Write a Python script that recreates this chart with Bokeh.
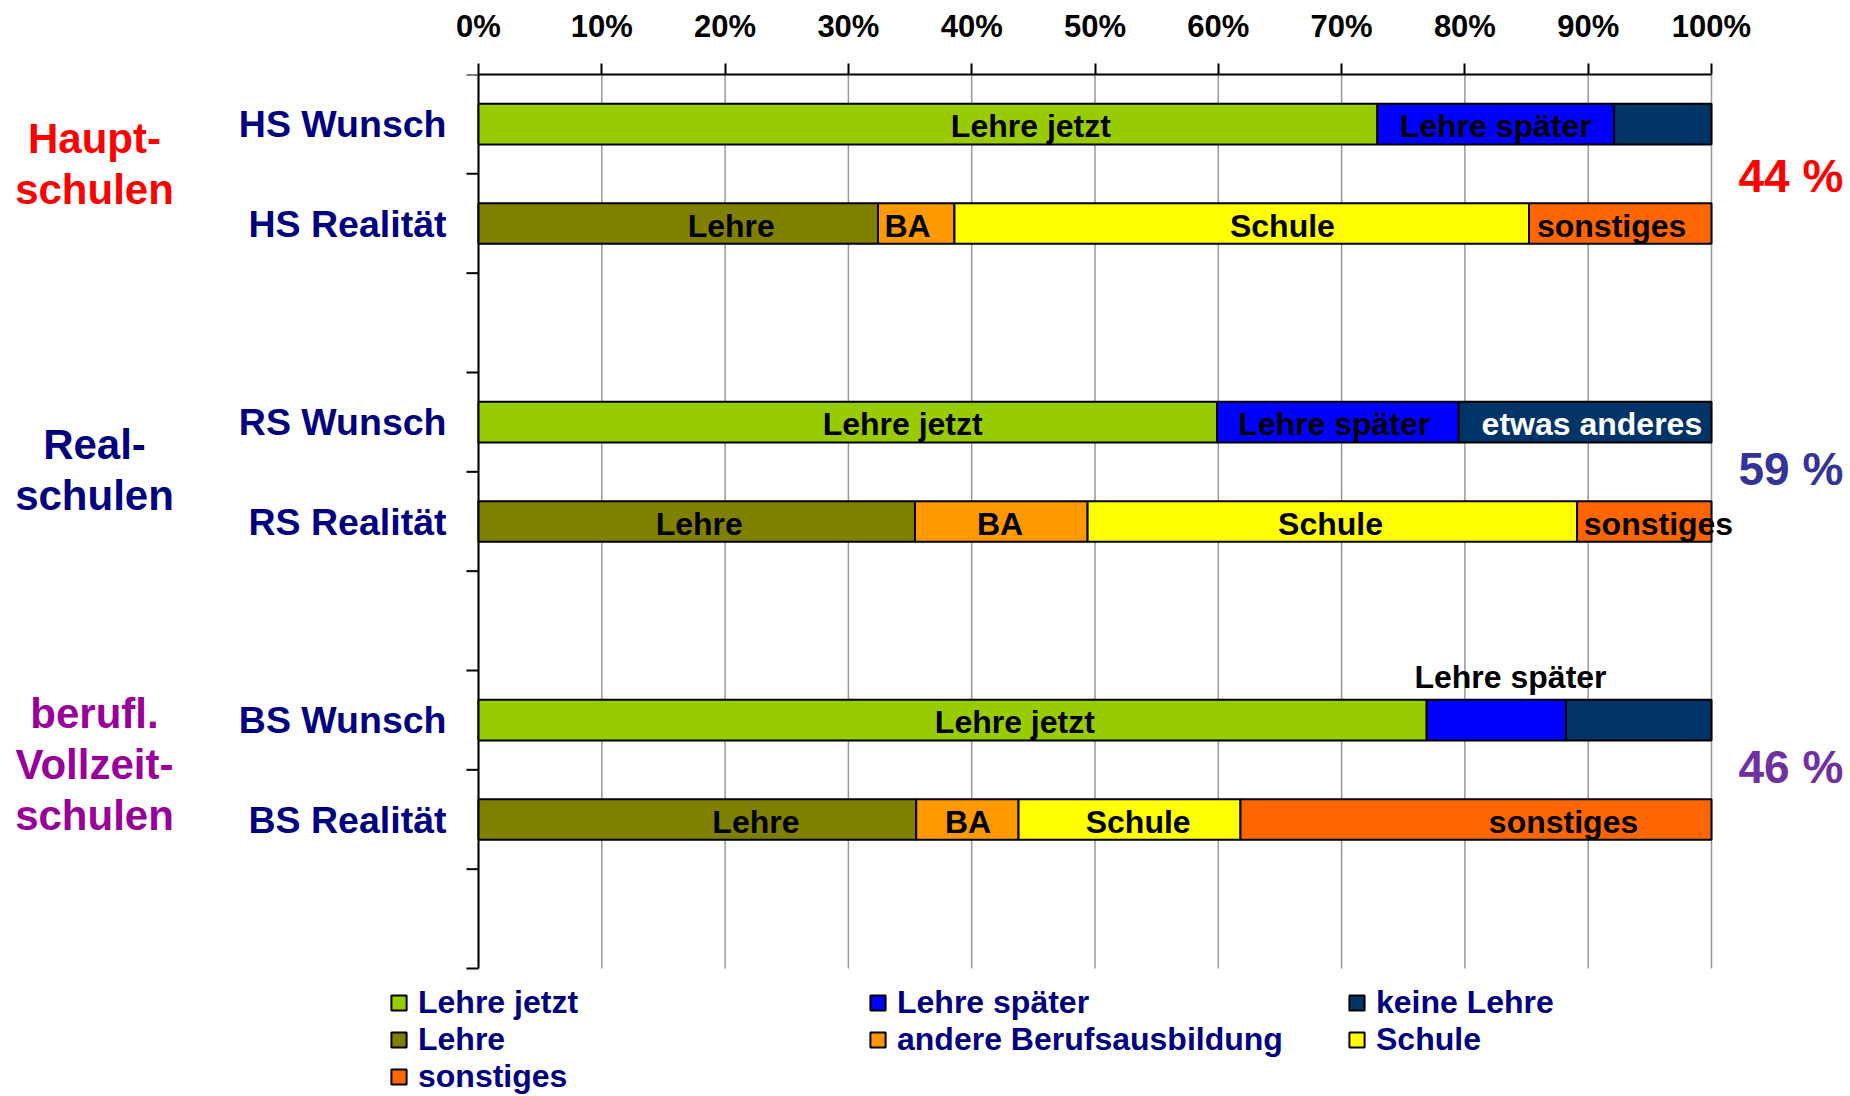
import numpy as np
from bokeh.plotting import figure
from bokeh.models import (Range1d, FixedTicker, PrintfTickFormatter, Label, LabelSet,
                          ColumnDataSource, Legend, LegendItem)
from bokeh.core.properties import value
from bokeh.embed import file_html
from bokeh.resources import INLINE

FONT = "Liberation Sans"

# ---------------- data ----------------
row_labels = ["HS Wunsch", "HS Realität", "RS Wunsch", "RS Realität", "BS Wunsch", "BS Realität"]
group_lines = [["Haupt-", "schulen"], ["Real-", "schulen"], ["berufl.", "Vollzeit-", "schulen"]]
group_colors = ["#FF0000", "#000080", "#990099"]
quota_text = ["44 %", "59 %", "46 %"]
quota_colors = ["#FF0000", "#333399", "#7030A0"]

wunsch_series = ["Lehre jetzt", "Lehre später", "keine Lehre"]
wunsch_colors = ["#99CC00", "#0000FF", "#003366"]
lehre_jetzt = [72.9, 59.9, 76.9]      # HS, RS, BS
lehre_spaeter = [19.2, 19.6, 11.3]
keine_lehre = [7.9, 20.5, 11.8]

real_series = ["Lehre", "andere Berufsausbildung", "Schule", "sonstiges"]
real_colors = ["#808000", "#FF9900", "#FFFF00", "#FF6600"]
lehre = [32.4, 35.4, 35.5]
andere_ba = [6.2, 14.0, 8.3]
schule = [46.6, 39.7, 18.0]
sonstiges = [14.8, 10.9, 38.2]

x_ticks = [0, 10, 20, 30, 40, 50, 60, 70, 80, 90, 100]

bar_label_text = ["Lehre jetzt", "Lehre später",
                  "Lehre", "BA", "Schule", "sonstiges",
                  "Lehre jetzt", "Lehre später", "etwas anderes",
                  "Lehre", "BA", "Schule", "sonstiges",
                  "Lehre jetzt", "Lehre später",
                  "Lehre", "BA", "Schule", "sonstiges"]
bar_label_row = [0, 0, 1, 1, 1, 1, 2, 2, 2, 3, 3, 3, 3, 4, 4, 5, 5, 5, 5]
bar_label_at = [44.8, 82.5, 20.5, 34.8, 65.2, 91.9, 34.4, 69.4, 90.3,
                17.9, 42.3, 69.1, 95.7, 43.5, 83.7, 22.5, 39.7, 53.5, 88.0]
bar_label_above = [False] * 14 + [True] + [False] * 4
bar_label_white = [False] * 8 + [True] + [False] * 10

N_SLOTS = 9

# ---------------- layout ----------------
W, H = 1850, 1096
PLOT_L, PLOT_R = 478, 1711          # screen x of 0 % and 100 %
TOP, BOTTOM = 74, 968               # screen y of the category area
kx = (PLOT_R - PLOT_L) / 100.0
ky = (BOTTOM - TOP) / N_SLOTS
x_range = Range1d(-PLOT_L / kx, (W - PLOT_L) / kx)
y_range = Range1d((H - TOP) / ky, 0)

# small per-group pixel nudges for the side texts (layout only)
group_nudge = [10, 2, 5]
quota_nudge = [-2, 3, 3]

p = figure(width=W, height=H, output_backend="svg", toolbar_location=None,
           x_range=x_range, y_range=y_range,
           x_axis_location="above", y_axis_location=None,
           min_border_left=0, min_border_right=0,
           min_border_top=TOP, min_border_bottom=0)
p.outline_line_color = None
p.background_fill_color = "white"
p.border_fill_color = "white"

xa = p.xaxis[0]
xa.bounds = (0, 100)
xa.ticker = FixedTicker(ticks=x_ticks)
xa.formatter = PrintfTickFormatter(format="%d%%")
xa.axis_line_width = 2
xa.axis_line_color = "black"
xa.major_tick_line_width = 2
xa.major_tick_out = 11
xa.major_tick_in = 0
xa.minor_tick_line_color = None
xa.major_label_standoff = 20
xa.major_label_text_font = FONT
xa.major_label_text_font_style = "bold"
xa.major_label_text_font_size = "31px"
xa.major_label_text_color = "black"

p.xgrid.grid_line_color = None
p.ygrid.grid_line_color = None

# vertical grid lines over the category area
p.segment(x0=x_ticks, y0=[0] * len(x_ticks), x1=x_ticks, y1=[N_SLOTS] * len(x_ticks),
          line_color="#999999", line_width=1.5)

# left (category) axis line with ticks at slot boundaries
slot_edges = list(range(N_SLOTS + 1))
p.segment(x0=[0], y0=[0], x1=[0], y1=[N_SLOTS], line_color="black", line_width=2)
p.ray(x=[0] * len(slot_edges), y=slot_edges, length=12, length_units="screen",
      angle=np.pi, line_color="black", line_width=2)

# ---------------- bars ----------------
BAR_H = 0.41
renderers = {}
wy = [3 * g + 0.5 for g in range(3)]
ry = [3 * g + 1.5 for g in range(3)]

left = np.zeros(3)
for name, col, vals in zip(wunsch_series, wunsch_colors, [lehre_jetzt, lehre_spaeter, keine_lehre]):
    vals = np.array(vals)
    renderers[name] = p.hbar(y=wy, left=left, right=left + vals, height=BAR_H,
                             fill_color=col, line_color="black", line_width=2)
    left = left + vals

left = np.zeros(3)
for name, col, vals in zip(real_series, real_colors, [lehre, andere_ba, schule, sonstiges]):
    vals = np.array(vals)
    renderers[name] = p.hbar(y=ry, left=left, right=left + vals, height=BAR_H,
                             fill_color=col, line_color="black", line_width=2)
    left = left + vals

# ---------------- bar labels ----------------
row_y = []
for i in range(len(row_labels)):
    g, kk = divmod(i, 2)
    row_y.append(3 * g + kk + 0.5)

lab_src = ColumnDataSource(dict(
    x=bar_label_at,
    y=[row_y[r] for r in bar_label_row],
    text=bar_label_text,
    color=["white" if w else "black" for w in bar_label_white],
    yoff=[43 if a else -2 for a in bar_label_above],
))
p.add_layout(LabelSet(x="x", y="y", text="text", source=lab_src, y_offset="yoff",
                      text_color="color", text_align="center", text_baseline="middle",
                      text_font=value(FONT), text_font_style="bold", text_font_size="32px"))

# ---------------- row labels ----------------
for i, name in enumerate(row_labels):
    p.add_layout(Label(x=0, y=row_y[i], text=name, x_offset=-32, y_offset=0,
                       text_align="right", text_baseline="middle",
                       text_font=FONT, text_font_style="bold", text_font_size="37.5px",
                       text_color="#000080"))

# ---------------- group labels and quotas ----------------
LINE = 51
for g, lines in enumerate(group_lines):
    mid = 3 * g + 1.0
    n = len(lines)
    for j, t in enumerate(lines):
        off = group_nudge[g] + (n - 1) / 2 * LINE - j * LINE
        p.add_layout(Label(x=0, y=mid, text=t, x_offset=-384, y_offset=off,
                           text_align="center", text_baseline="middle",
                           text_font=FONT, text_font_style="bold", text_font_size="42px",
                           text_color=group_colors[g]))
    p.add_layout(Label(x=100, y=mid, text=quota_text[g], x_offset=27, y_offset=quota_nudge[g],
                       text_align="left", text_baseline="middle",
                       text_font=FONT, text_font_style="bold", text_font_size="46px",
                       text_color=quota_colors[g]))

# ---------------- legend ----------------
order = wunsch_series + real_series
legend = Legend(items=[LegendItem(label=n, renderers=[renderers[n]]) for n in order],
                orientation="horizontal", ncols=3, location=(389, 1),
                glyph_width=19, glyph_height=19, label_standoff=10,
                label_width=450, label_height=34, spacing=0, padding=0, margin=0,
                border_line_color=None, background_fill_alpha=0,
                label_text_font=FONT, label_text_font_style="bold",
                label_text_font_size="32px", label_text_color="#000080")
p.add_layout(legend, "center")

open("out.html", "w").write(file_html(p, INLINE))
